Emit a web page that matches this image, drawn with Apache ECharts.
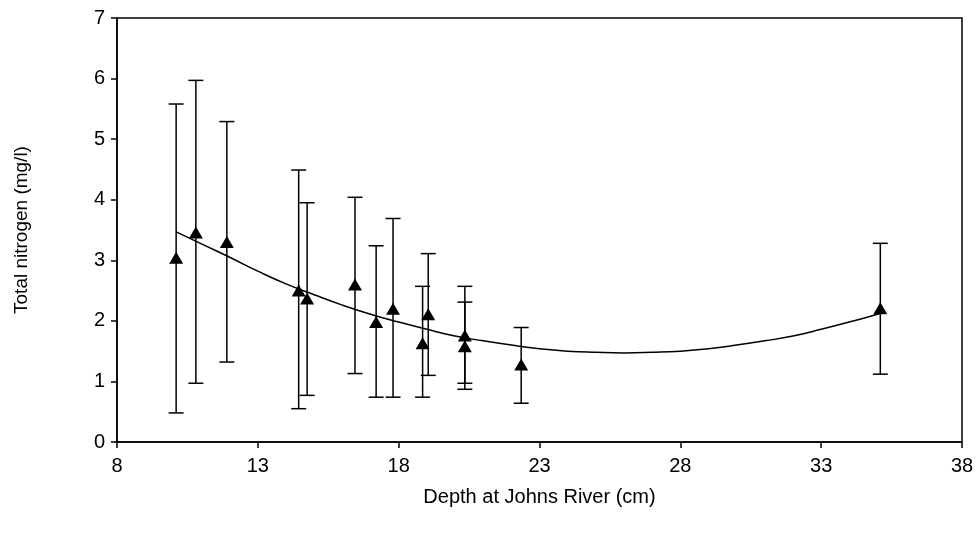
<!DOCTYPE html>
<html>
<head>
<meta charset="utf-8">
<script src="https://cdn.jsdelivr.net/npm/echarts@6/dist/echarts.min.js"></script>
<style>
html,body{margin:0;padding:0;background:#fff;}
#main{width:979px;height:535px;}
</style>
</head>
<body>
<div id="main"></div>
<script>
// measured points (depth, mean, error bar ends)
var depth = [10.1, 10.8, 11.9, 14.45, 14.75, 16.45, 17.2, 17.8, 18.85, 19.05, 20.35, 20.35, 22.35, 35.1];
var nitrogen = [3.04, 3.46, 3.30, 2.50, 2.37, 2.60, 1.98, 2.20, 1.63, 2.11, 1.76, 1.58, 1.28, 2.21];
var upper = [5.58, 5.97, 5.29, 4.49, 3.95, 4.04, 3.24, 3.69, 2.57, 3.11, 2.57, 2.31, 1.89, 3.28];
var lower = [0.48, 0.97, 1.32, 0.55, 0.77, 1.13, 0.74, 0.74, 0.74, 1.10, 0.97, 0.87, 0.64, 1.12];

// trend line
var trendX = [10.1, 11, 12, 13, 14, 15, 16, 17, 18, 19, 20, 21, 22, 23, 24, 25, 26, 27, 28, 29, 30, 31, 32, 33, 34, 35, 35.1];
var trendY = [3.47, 3.27, 3.05, 2.82, 2.61, 2.43, 2.26, 2.11, 1.98, 1.86, 1.75, 1.67, 1.60, 1.54, 1.50, 1.48, 1.47, 1.48, 1.50, 1.54, 1.60, 1.67, 1.75, 1.86, 1.98, 2.11, 2.13];

var myChart = echarts.init(document.getElementById('main'));

var pts = depth.map(function (d, i) { return [d, nitrogen[i]]; });
var bars = depth.map(function (d, i) { return [d, lower[i], upper[i]]; });
var trend = trendX.map(function (d, i) { return [d, trendY[i]]; });

var fontFam = '"Liberation Sans", Arial, sans-serif';

option = {
    backgroundColor: '#fff',
    animation: false,
    grid: {left: 117, right: 17, top: 18, bottom: 93, show: true, borderColor: '#000', borderWidth: 1.5},
    xAxis: {
        type: 'value', min: 8, max: 38, interval: 5,
        name: 'Depth at Johns River (cm)', nameLocation: 'middle', nameGap: 45,
        nameTextStyle: {color: '#000', fontSize: 20, fontFamily: fontFam},
        axisLine: {show: true, lineStyle: {color: '#000', width: 1.5}},
        axisTick: {show: true, length: 6, lineStyle: {color: '#000', width: 1.5}},
        axisLabel: {color: '#000', fontSize: 20, fontFamily: fontFam, margin: 14},
        splitLine: {show: false}
    },
    yAxis: {
        type: 'value', min: 0, max: 7, interval: 1,
        name: 'Total nitrogen (mg/l)', nameLocation: 'middle', nameGap: 86,
        nameTextStyle: {color: '#000', fontSize: 19, fontFamily: fontFam},
        axisLine: {show: true, lineStyle: {color: '#000', width: 1.5}},
        axisTick: {show: true, length: 6, lineStyle: {color: '#000', width: 1.5}},
        axisLabel: {color: '#000', fontSize: 20, fontFamily: fontFam, margin: 12},
        splitLine: {show: false}
    },
    series: [
        {
            type: 'line', data: trend, smooth: true, showSymbol: false,
            lineStyle: {color: '#000', width: 1.5}, z: 2
        },
        {
            type: 'custom', data: bars, z: 3,
            renderItem: function (params, api) {
                var x = api.value(0);
                var lo = api.coord([x, api.value(1)]);
                var hi = api.coord([x, api.value(2)]);
                var w = 7.5;
                var st = {stroke: '#000', lineWidth: 1.5};
                return {
                    type: 'group',
                    children: [
                        {type: 'line', shape: {x1: lo[0], y1: lo[1], x2: hi[0], y2: hi[1]}, style: st},
                        {type: 'line', shape: {x1: hi[0] - w, y1: hi[1], x2: hi[0] + w, y2: hi[1]}, style: st},
                        {type: 'line', shape: {x1: lo[0] - w, y1: lo[1], x2: lo[0] + w, y2: lo[1]}, style: st}
                    ]
                };
            }
        },
        {
            type: 'scatter', data: pts, symbol: 'triangle', symbolSize: [14, 12],
            itemStyle: {color: '#000', opacity: 1}, z: 4
        }
    ]
};

myChart.setOption(option);
</script>
</body>
</html>
